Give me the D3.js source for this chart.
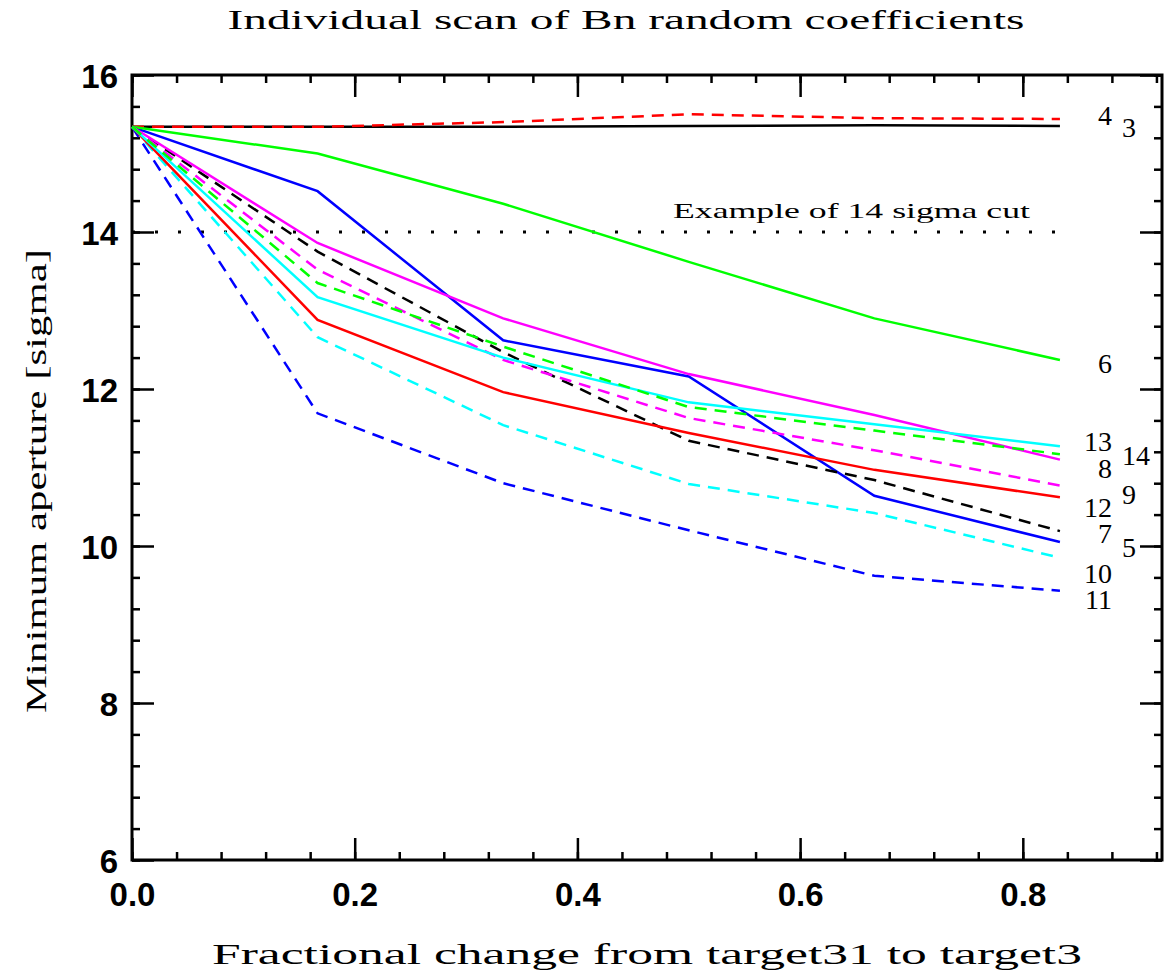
<!DOCTYPE html>
<html>
<head>
<meta charset="utf-8">
<script src="https://cdn.jsdelivr.net/npm/d3@7"></script>
<style>
  body { margin: 0; background: #fff; }
  svg { display: block; }
</style>
</head>
<body>
<svg id="chart" width="1165" height="972"></svg>
<script>
// scan steps (fraction from target31 to target3)
var steps = [0, 1/6, 2/6, 3/6, 4/6, 5/6];

// minimum aperture per scanned coefficient
var curveIds = [3, 4, 5, 6, 7, 8, 9, 10, 11, 12, 13, 14];
var b3  = [15.34, 15.34, 15.34, 15.35, 15.36, 15.35];
var b4  = [15.34, 15.34, 15.40, 15.50, 15.45, 15.44];
var b5  = [15.34, 14.52, 12.62, 12.16, 10.64, 10.05];
var b6  = [15.34, 15.00, 14.36, 13.62, 12.90, 12.37];
var b7  = [15.34, 13.75, 12.47, 11.34, 10.84, 10.19];
var b8  = [15.34, 13.86, 12.90, 12.19, 11.67, 11.10];
var b9  = [15.34, 13.52, 12.37, 11.63, 11.22, 10.77];
var b10 = [15.34, 12.66, 11.54, 10.79, 10.42, 9.85];
var b11 = [15.34, 11.69, 10.80, 10.20, 9.62, 9.43];
var b12 = [15.34, 12.88, 11.96, 11.44, 10.97, 10.62];
var b13 = [15.34, 13.17, 12.40, 11.83, 11.55, 11.27];
var b14 = [15.34, 13.35, 12.54, 11.77, 11.47, 11.17];
var curveValues = [b3, b4, b5, b6, b7, b8, b9, b10, b11, b12, b13, b14];

var cutLevel = 14;
var xTicks = [0, 0.2, 0.4, 0.6, 0.8];
var yTicks = [6, 8, 10, 12, 14, 16];

// styling per curve
var colors  = ["#000", "#f00", "#00f", "#0f0", "#000", "#f0f", "#f0f", "#0ff", "#00f", "#f00", "#0ff", "#0f0"];
var dashed  = [false, true, false, false, true, false, true, true, true, false, false, true];
var labelCol   = [1, 0, 1, 0, 0, 0, 1, 0, 0, 0, 0, 1];     // 0 = left column, 1 = right column
var labelNudge = [11, 6, 15, 13, 12, 18, 18, 25, 18, 20, 5, 11];

function drawChart() {
    var svg = d3.select("#chart");
    var mLeft = 132, mRight = 1162, mTop = 75, mBottom = 860;

    var x = d3.scaleLinear().domain([0, 0.925]).range([mLeft, mRight]);
    var y = d3.scaleLinear().domain([6, 16]).range([mBottom, mTop]);

    var serif = "'Liberation Serif', 'DejaVu Serif', serif";
    var bold = "'Liberation Sans', Arial, sans-serif";

    // title and axis titles
    svg.append("text")
        .attr("x", 626).attr("y", 29)
        .attr("text-anchor", "middle")
        .attr("font-family", serif).attr("font-size", 27)
        .attr("textLength", 797).attr("lengthAdjust", "spacingAndGlyphs")
        .text("Individual scan of Bn random coefficients");

    svg.append("text")
        .attr("x", 647).attr("y", 964)
        .attr("text-anchor", "middle")
        .attr("font-family", serif).attr("font-size", 30)
        .attr("textLength", 870).attr("lengthAdjust", "spacingAndGlyphs")
        .text("Fractional change from target31 to target3");

    svg.append("text")
        .attr("transform", "translate(46,481) rotate(-90)")
        .attr("text-anchor", "middle")
        .attr("font-family", serif).attr("font-size", 30)
        .attr("textLength", 464).attr("lengthAdjust", "spacingAndGlyphs")
        .text("Minimum aperture [sigma]");

    // axes: major + minor ticks on all four sides, pointing inward
    function minorRange(s, step) {
        var d = s.domain();
        return d3.range(d[0], d[1] + 1e-9, step);
    }

    function drawAxis(gen, transform, size, labels) {
        var g = svg.append("g").attr("transform", transform).call(gen.tickSize(size));
        g.select(".domain").remove();
        g.selectAll(".tick line").attr("stroke", "#000").attr("stroke-width", 2.5);
        if (!labels) g.selectAll(".tick text").remove();
        return g;
    }

    var xMinor = minorRange(x, 0.04);
    var yMinor = minorRange(y, 0.4);

    drawAxis(d3.axisBottom(x).tickValues(xMinor), "translate(0," + mBottom + ")", -8, false);
    drawAxis(d3.axisTop(x).tickValues(xMinor), "translate(0," + mTop + ")", -8, false);
    drawAxis(d3.axisLeft(y).tickValues(yMinor), "translate(" + mLeft + ",0)", -8, false);
    drawAxis(d3.axisRight(y).tickValues(yMinor), "translate(" + mRight + ",0)", -8, false);

    var xb = drawAxis(d3.axisBottom(x).tickValues(xTicks).tickFormat(d3.format(".1f")).tickPadding(0),
        "translate(0," + mBottom + ")", -22, true);
    xb.selectAll(".tick text")
        .attr("y", 46).attr("dy", null)
        .attr("font-family", bold).attr("font-weight", "bold").attr("font-size", 33).attr("fill", "#000");

    drawAxis(d3.axisTop(x).tickValues(xTicks), "translate(0," + mTop + ")", -22, false);

    var yl = drawAxis(d3.axisLeft(y).tickValues(yTicks).tickFormat(d3.format("d")),
        "translate(" + mLeft + ",0)", -22, true);
    yl.selectAll(".tick text")
        .attr("x", -14).attr("dy", 12)
        .attr("font-family", bold).attr("font-weight", "bold").attr("font-size", 33).attr("fill", "#000");

    drawAxis(d3.axisRight(y).tickValues(yTicks), "translate(" + mRight + ",0)", -22, false);

    // frame
    svg.append("rect")
        .attr("x", mLeft).attr("y", mTop)
        .attr("width", mRight - mLeft).attr("height", mBottom - mTop)
        .attr("fill", "none").attr("stroke", "#000").attr("stroke-width", 3);

    // 14 sigma cut
    svg.append("line")
        .attr("x1", x(steps[0])).attr("x2", x(steps[steps.length - 1]))
        .attr("y1", y(cutLevel)).attr("y2", y(cutLevel))
        .attr("stroke", "#000").attr("stroke-width", 3)
        .attr("stroke-dasharray", "3,20");

    svg.append("text")
        .attr("x", 1030).attr("y", y(cutLevel) - 14)
        .attr("text-anchor", "end")
        .attr("font-family", serif).attr("font-size", 22)
        .attr("textLength", 357).attr("lengthAdjust", "spacingAndGlyphs")
        .text("Example of " + cutLevel + " sigma cut");

    // curves
    var line = d3.line()
        .x(function(d, i) { return x(steps[i]); })
        .y(function(d) { return y(d); });

    curveValues.forEach(function(vals, k) {
        svg.append("path")
            .datum(vals)
            .attr("d", line)
            .attr("fill", "none")
            .attr("stroke", colors[k])
            .attr("stroke-width", 2.5)
            .attr("stroke-dasharray", dashed[k] ? "12,8" : null);
    });

    // curve labels at the line ends
    curveValues.forEach(function(vals, k) {
        var last = vals[vals.length - 1];
        svg.append("text")
            .attr("x", labelCol[k] ? 1122 : 1112)
            .attr("y", y(last) + labelNudge[k])
            .attr("text-anchor", labelCol[k] ? "start" : "end")
            .attr("font-family", serif).attr("font-size", 28)
            .text(curveIds[k]);
    });
}

drawChart();
</script>
</body>
</html>
